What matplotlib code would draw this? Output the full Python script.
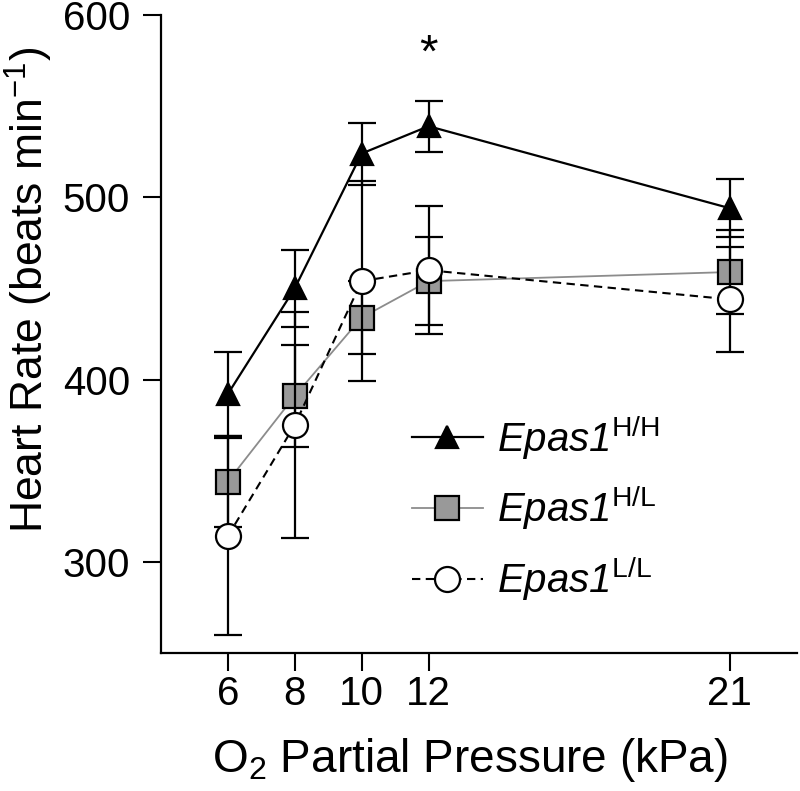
import matplotlib
matplotlib.use('Agg')
import matplotlib.pyplot as plt

plt.rcParams['font.family'] = ['Liberation Sans', 'DejaVu Sans']
plt.rcParams['mathtext.fontset'] = 'custom'
plt.rcParams['mathtext.rm'] = 'Liberation Sans'
plt.rcParams['mathtext.it'] = 'Liberation Sans:italic'

# O2 partial pressure (kPa)
o2 = [6, 8, 10, 12, 21]

# heart rate means and error bars per genotype
hh_mean = [392, 450, 524, 539, 494]
hh_err = [23, 21, 17, 14, 16]
hl_mean = [344, 391, 434, 454, 459]
hl_err = [25, 28, 20, 24, 23]
ll_mean = [314, 375, 454, 460, 444]
ll_err = [54, 62, 55, 35, 29]

labels = [r'Epas1$^{\mathrm{H/H}}$',
          r'Epas1$^{\mathrm{H/L}}$',
          r'Epas1$^{\mathrm{L/L}}$']

fig = plt.figure(figsize=(8, 7.91), dpi=100)
ax = fig.add_axes([0.201, 0.1745, 0.795, 0.8065])

common = dict(ecolor='black', elinewidth=1.6, capsize=10, capthick=1.6,
              markeredgecolor='black', markeredgewidth=1.6)

# gray squares drawn lowest so the other error bars pass over them
eb_hl = ax.errorbar(o2, hl_mean, yerr=hl_err, color='#8c8c8c', lw=1.3,
                    marker='s', markersize=17, markerfacecolor='#999999',
                    zorder=1, **common)
eb_hh = ax.errorbar(o2, hh_mean, yerr=hh_err, color='black', lw=1.6,
                    marker='^', markersize=16, markerfacecolor='black',
                    zorder=2, **common)
eb_ll = ax.errorbar(o2, ll_mean, yerr=ll_err, color='black', lw=1.5,
                    linestyle=(0, (4, 2.6)), marker='o', markersize=18,
                    markerfacecolor='white', zorder=3, **common)

ax.text(12, 578, '*', ha='center', va='center', fontsize=34)

ax.set_xlim(4, 23)
ax.set_ylim(250, 600)
ax.set_xticks(o2)
ax.set_yticks([300, 400, 500, 600])
ax.tick_params(axis='both', direction='out', length=13, width=1.5,
               labelsize=29)
ax.tick_params(axis='y', pad=9)
ax.tick_params(axis='x', pad=3)
ax.spines['top'].set_visible(False)
ax.spines['right'].set_visible(False)
ax.spines['left'].set_linewidth(1.6)
ax.spines['bottom'].set_linewidth(1.6)

ax.set_xlabel(r'O$_2$ Partial Pressure (kPa)', fontsize=33)
ax.set_ylabel(r'Heart Rate (beats min$^{-1}$)', fontsize=32)
ax.xaxis.set_label_coords(0.486, -0.13)
ax.yaxis.set_label_coords(-0.166, 0.57)

ax.legend([eb_hh[0], eb_hl[0], eb_ll[0]], labels, frameon=False,
          loc='upper left', bbox_to_anchor=(0.395, 0.376),
          prop={'size': 29, 'style': 'italic'},
          numpoints=1, handlelength=1.75, handletextpad=0.37,
          labelspacing=0.55, borderaxespad=0, borderpad=0)

fig.savefig('out.png', dpi=100)
